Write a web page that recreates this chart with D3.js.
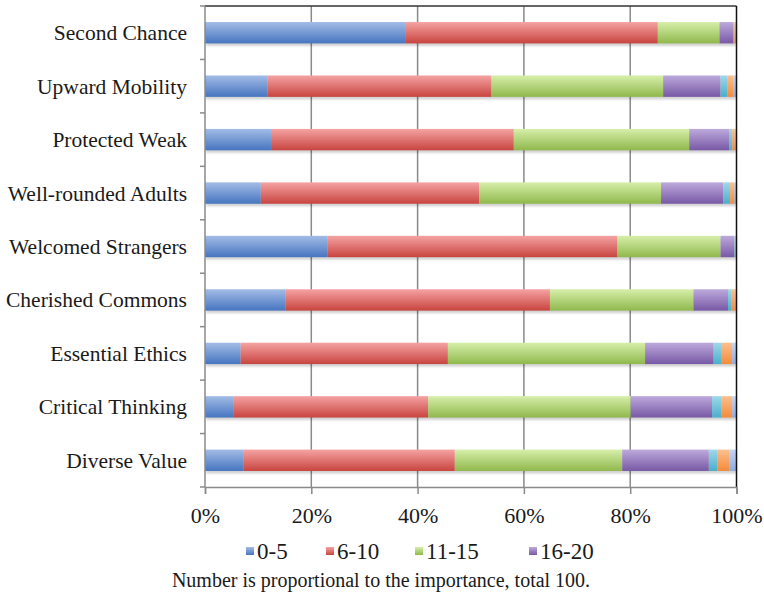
<!DOCTYPE html>
<html><head><meta charset="utf-8">
<script src="https://cdn.jsdelivr.net/npm/d3@7"></script>
<style>
html,body{margin:0;padding:0;background:#fff;}
text{font-family:"Liberation Serif","Times New Roman",serif;fill:#1a1a1a;}
</style></head>
<body><svg id="c" width="764" height="596"></svg>
<script>
const categories = ["Second Chance","Upward Mobility","Protected Weak","Well-rounded Adults","Welcomed Strangers","Cherished Commons","Essential Ethics","Critical Thinking","Diverse Value"];
const seriesNames = ["0-5","6-10","11-15","16-20","21-25","26-30","31+"];
const legendNames = ["0-5","6-10","11-15","16-20"];
const s0_5   = [37.8,11.8,12.6,10.5,23.1,15.1, 6.7, 5.3, 7.3];
const s6_10  = [47.4,42.1,45.5,41.1,54.5,49.8,39.0,36.7,39.7];
const s11_15 = [11.6,32.3,33.0,34.2,19.4,27.0,37.1,38.1,31.5];
const s16_20 = [ 2.6,10.8, 7.5,11.7, 2.6, 6.5,12.9,15.3,16.3];
const s21_25 = [ 0.2, 1.3, 0.6, 1.3, 0.1, 0.6, 1.4, 1.8, 1.6];
const s26_30 = [ 0.4, 1.1, 0.5, 0.8, 0.2, 0.7, 2.1, 2.0, 2.3];
const s31    = [ 0.0, 0.6, 0.3, 0.4, 0.1, 0.3, 0.8, 0.8, 1.3];
const xTicks = [0,20,40,60,80,100];
const caption = "Number is proportional to the importance, total 100.";

const seriesArrays = [s0_5,s6_10,s11_15,s16_20,s21_25,s26_30,s31];
const baseColors = ["#4675c0","#c8443f","#90b84c","#7858a5","#4aaecb","#f48a3a","#8eaadf"];
const lightColors = ["#a3bce6","#f5a3a3","#d6efaa","#bdaadc","#9fd9ea","#fbc090","#c5d5f3"];

const table = categories.map((c,i)=>{
  const row = {cat:c};
  seriesNames.forEach((s,j)=>row[s]=seriesArrays[j][i]);
  return row;
});

const svg = d3.select("#c");
const x = d3.scaleLinear().domain([0,100]).range([205,736.5]);
const y = d3.scaleBand().domain(categories).range([6,487]).paddingInner(0.6).paddingOuter(0.3);

const defs = svg.append("defs");
seriesNames.forEach((s,j)=>{
  const g = defs.append("linearGradient").attr("id","g"+j).attr("x1",0).attr("y1",0).attr("x2",0).attr("y2",1);
  g.append("stop").attr("offset","0%").attr("stop-color",lightColors[j]);
  g.append("stop").attr("offset","100%").attr("stop-color",baseColors[j]);
});
const f = defs.append("filter").attr("id","sh").attr("x","-5%").attr("y","-50%").attr("width","110%").attr("height","200%");
f.append("feGaussianBlur").attr("stdDeviation",1.2);

// gridlines
svg.append("g").selectAll("line").data(xTicks.filter(d=>d>0&&d<100)).join("line")
  .attr("x1",d=>x(d)).attr("x2",d=>x(d)).attr("y1",6).attr("y2",487)
  .attr("stroke","#8a8a8a").attr("stroke-width",1.5);

// shadows
svg.append("g").selectAll("rect").data(categories).join("rect")
  .attr("x",x(0)+1).attr("y",d=>y(d)+2.5).attr("width",x(100)-x(0)-1).attr("height",y.bandwidth())
  .attr("fill","#000").attr("opacity",0.18).attr("filter","url(#sh)");

const stack = d3.stack().keys(seriesNames);
const layers = stack(table);
svg.append("g").selectAll("g").data(layers).join("g")
  .attr("fill",(d,j)=>`url(#g${j})`)
  .selectAll("rect").data(d=>d).join("rect")
  .attr("x",d=>x(d[0])).attr("y",d=>y(d.data.cat))
  .attr("width",d=>Math.max(0,x(d[1])-x(d[0]))).attr("height",y.bandwidth());

// frame: top and right
svg.append("line").attr("x1",x(0)).attr("x2",x(100)).attr("y1",6).attr("y2",6).attr("stroke","#333").attr("stroke-width",1.5);
svg.append("line").attr("x1",x(100)).attr("x2",x(100)).attr("y1",6).attr("y2",487).attr("stroke","#111").attr("stroke-width",1.5);

// x axis
const xa = svg.append("g").attr("transform","translate(0,487)")
  .call(d3.axisBottom(x).tickValues(xTicks).tickFormat(d=>d+"%").tickSize(7).tickPadding(13));
xa.attr("font-family",null).attr("font-size",null);
xa.select(".domain").attr("stroke","#8a8a8a").attr("stroke-width",1.5);
xa.selectAll(".tick line").attr("stroke","#8a8a8a").attr("stroke-width",1.5);
xa.selectAll("text").attr("font-size",22).attr("fill","#1a1a1a");

// y axis
const boundaries = d3.range(categories.length+1).map(i=>6 + i*y.step());
const ya = svg.append("g");
ya.append("line").attr("x1",x(0)).attr("x2",x(0)).attr("y1",6).attr("y2",487).attr("stroke","#8a8a8a").attr("stroke-width",1.5);
ya.selectAll("line.t").data(boundaries).join("line").attr("class","t")
  .attr("x1",x(0)-5).attr("x2",x(0)).attr("y1",d=>d).attr("y2",d=>d).attr("stroke","#8a8a8a").attr("stroke-width",1.5);
ya.selectAll("text").data(categories).join("text")
  .attr("x",187).attr("y",d=>y(d)+y.bandwidth()/2).attr("dy","0.35em")
  .attr("text-anchor","end").attr("font-size",21.5).text(d=>d);

// legend
const legendX = [246, 326, 415, 529];
const lg = svg.append("g").attr("transform","translate(0,551)");
legendNames.forEach((n,j)=>{
  lg.append("rect").attr("x",legendX[j]).attr("y",-4).attr("width",8).attr("height",8).attr("fill",`url(#g${j})`);
  lg.append("text").attr("x",legendX[j]+11).attr("y",0).attr("dy","0.35em").attr("font-size",23).text(n);
});

svg.append("text").attr("x",381).attr("y",580).attr("dy","0.35em").attr("text-anchor","middle").attr("font-size",20).text(caption);
</script></body></html>
